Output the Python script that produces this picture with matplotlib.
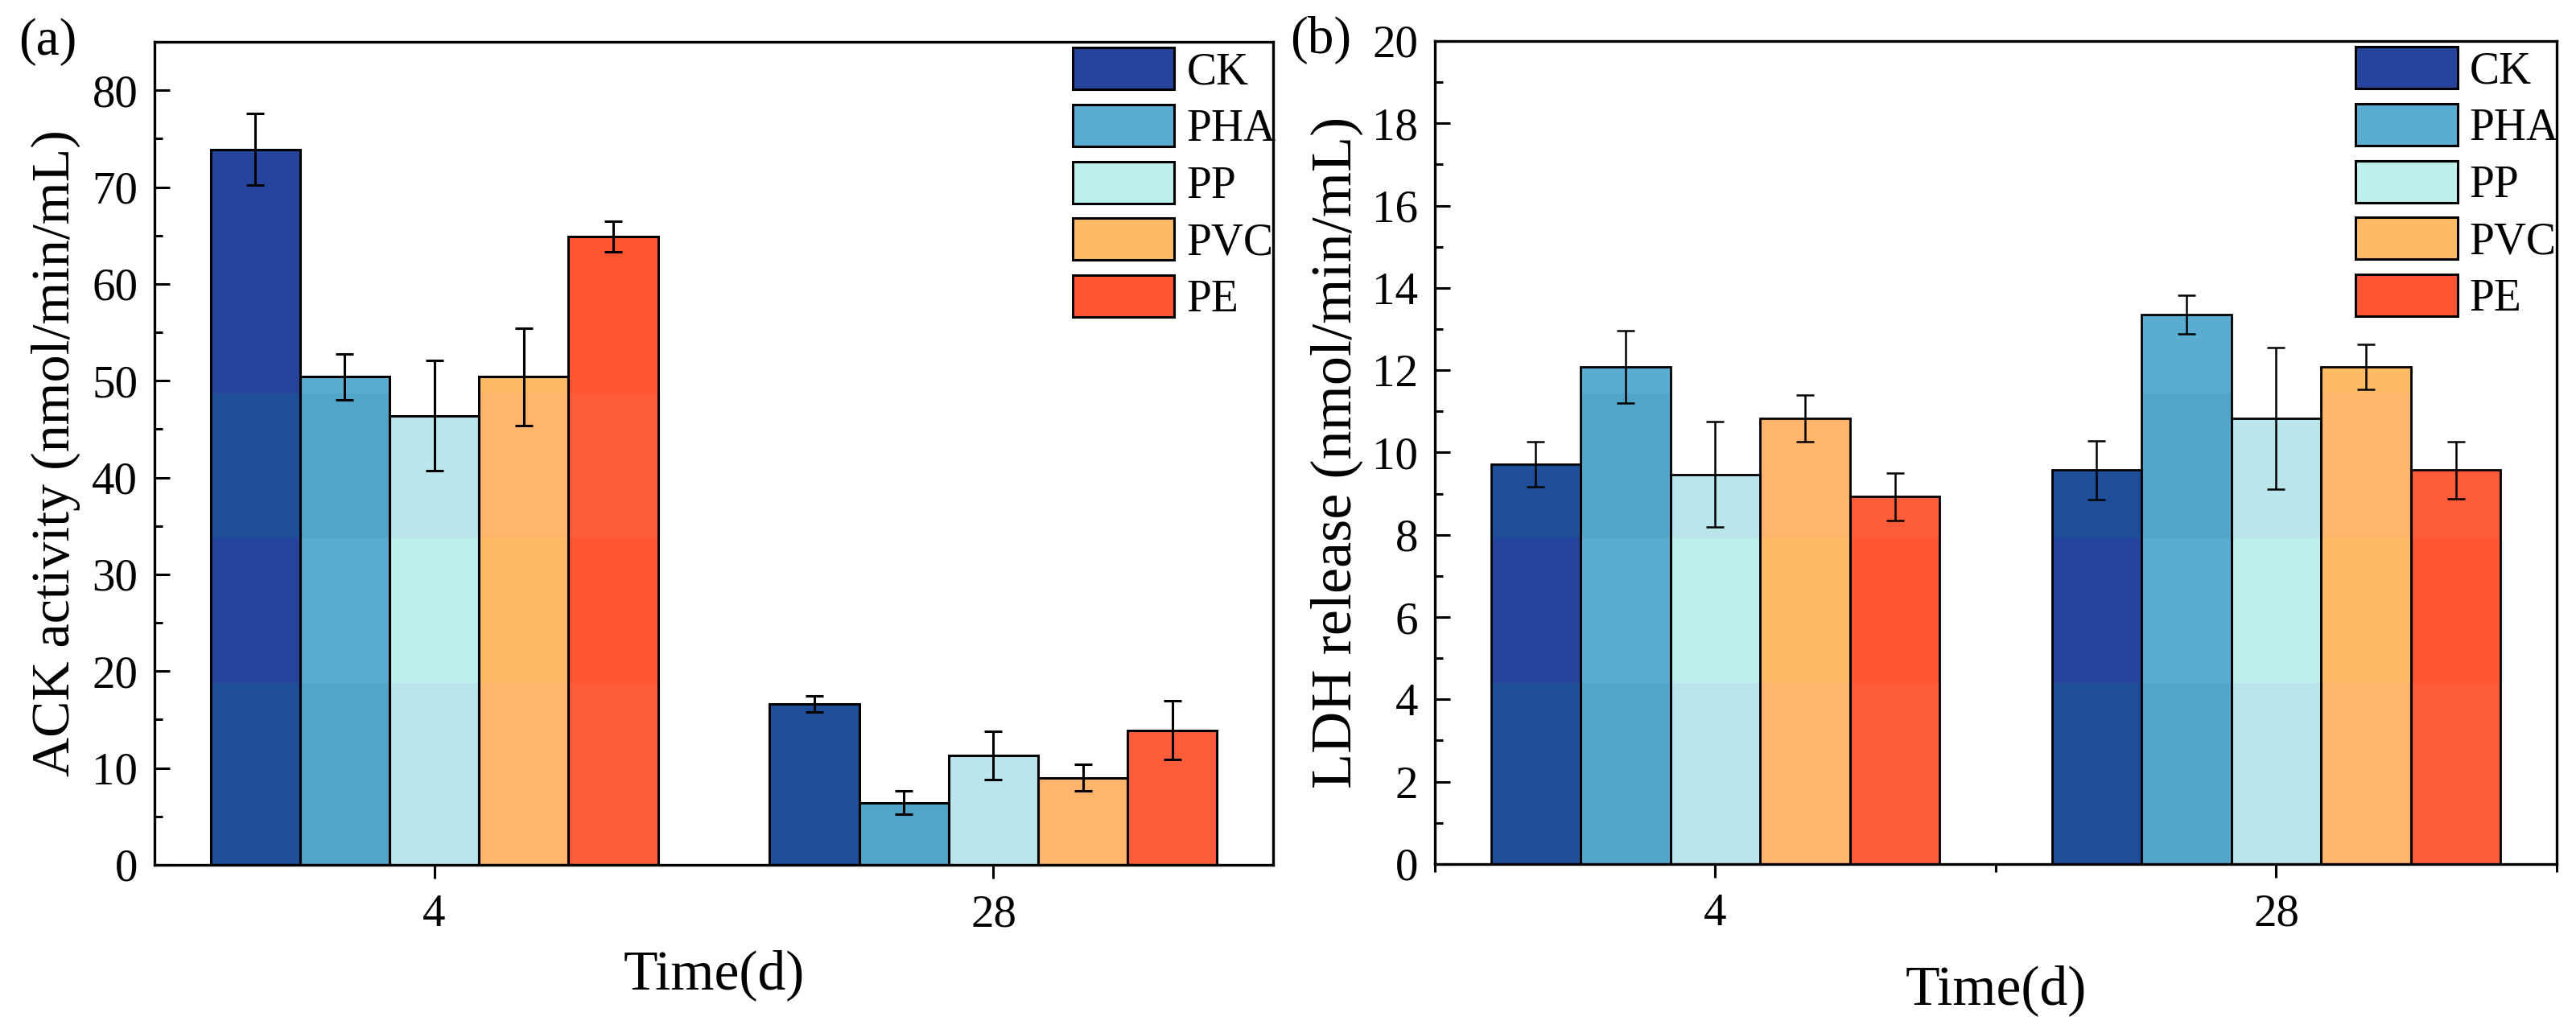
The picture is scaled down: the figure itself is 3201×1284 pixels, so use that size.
import numpy as np
import matplotlib.pyplot as plt
from matplotlib.patches import Patch, Rectangle
from matplotlib.transforms import blended_transform_factory
from matplotlib.ticker import MultipleLocator

plt.rcParams['font.family'] = ['Liberation Serif', 'DejaVu Serif']

# data
groups = ['CK', 'PHA', 'PP', 'PVC', 'PE']
days = ['4', '28']

ack_d4 = [73.9, 50.4, 46.4, 50.4, 64.9]
ack_d4_err = [3.7, 2.4, 5.7, 5.0, 1.6]
ack_d28 = [16.6, 6.4, 11.3, 9.0, 13.9]
ack_d28_err = [0.85, 1.2, 2.5, 1.4, 3.05]

ldh_d4 = [9.72, 12.08, 9.47, 10.83, 8.93]
ldh_d4_err = [0.55, 0.88, 1.28, 0.57, 0.58]
ldh_d28 = [9.57, 13.35, 10.83, 12.08, 9.57]
ldh_d28_err = [0.71, 0.47, 1.72, 0.55, 0.69]

colors = ['#26449C', '#5AACD0', '#BDEFEC', '#FFBB63', '#FF5530']
# slightly shifted shades seen in horizontal strips of the original export
strip_colors = ['#1E4F98', '#52A5C9', '#BBE5EC', '#FFB56C', '#FF5C3A']
strips = [(1 - 669 / 1284, 1 - 489 / 1284), (0.0, 1 - 849 / 1284)]

fig = plt.figure(figsize=(32.01, 12.84), dpi=100)
ax_a = fig.add_axes([0.0600, 0.1628, 0.4342, 0.7967])
ax_b = fig.add_axes([0.5570, 0.1636, 0.4355, 0.7967])

width = 0.16
x = np.arange(len(days))


def draw_panel(ax, d4, e4, d28, e28, edge_lw, err_lw):
    trans = blended_transform_factory(ax.transData, fig.transFigure)
    for i, g in enumerate(groups):
        pos = x + (i - 2) * width
        vals = [d4[i], d28[i]]
        errs = [e4[i], e28[i]]
        bars = ax.bar(pos, vals, width, color=colors[i], linewidth=0, zorder=2)
        for b in bars:
            for y0, y1 in strips:
                r = Rectangle((b.get_x(), y0), b.get_width(), y1 - y0,
                              transform=trans, facecolor=strip_colors[i],
                              edgecolor='none', zorder=2.1)
                ax.add_patch(r)
                r.set_clip_path(b)
        ax.bar(pos, vals, width, fill=False, edgecolor='black',
               linewidth=edge_lw, zorder=3)
        ax.errorbar(pos, vals, yerr=errs, fmt='none', ecolor='black',
                    elinewidth=err_lw, capsize=8, capthick=err_lw, zorder=4)

    ax.set_xlim(-0.5, 1.5)
    ax.set_xticks(x)
    ax.set_xticklabels(days)
    for s in ax.spines.values():
        s.set_linewidth(2.4)
        s.set_zorder(5)
    ax.tick_params(axis='y', which='major', direction='in', length=13.7,
                   width=2.2, labelsize=41, pad=15)
    ax.tick_params(axis='y', which='minor', direction='in', length=7,
                   width=2.2)
    ax.tick_params(axis='x', which='major', direction='out', length=12,
                   width=2.2, labelsize=41, pad=14)
    ax.tick_params(axis='x', which='minor', direction='out', length=7,
                   width=2.2)

    handles = [Patch(facecolor=c, edgecolor='black', linewidth=2.2)
               for c in colors]
    ax.legend(handles, groups, loc='upper left', bbox_to_anchor=(0.821, 0.993),
              frameon=False, fontsize=40, handlelength=2.27, handleheight=1.06,
              handletextpad=0.27, labelspacing=0.25, borderpad=0,
              borderaxespad=0)


draw_panel(ax_a, ack_d4, ack_d4_err, ack_d28, ack_d28_err, 2.2, 2.2)
ax_a.set_ylim(0, 85)
ax_a.yaxis.set_major_locator(MultipleLocator(10))
ax_a.yaxis.set_minor_locator(MultipleLocator(5))
ax_a.set_ylabel('ACK activity (nmol/min/mL)', fontsize=49, labelpad=10)
ax_a.set_xlabel('Time(d)', fontsize=50, labelpad=12)

draw_panel(ax_b, ldh_d4, ldh_d4_err, ldh_d28, ldh_d28_err, 2.0, 1.8)
ax_b.set_ylim(0, 20)
ax_b.yaxis.set_major_locator(MultipleLocator(2))
ax_b.yaxis.set_minor_locator(MultipleLocator(1))
ax_b.xaxis.set_minor_locator(MultipleLocator(0.5))
ax_b.set_ylabel('LDH release (nmol/min/mL)', fontsize=52, labelpad=8)
ax_b.set_xlabel('Time(d)', fontsize=50, labelpad=27)

fig.text(23 / 3201, 1 - 22 / 1284, '(a)', fontsize=47, ha='left', va='top')
fig.text(1603 / 3201, 1 - 20 / 1284, '(b)', fontsize=47, ha='left', va='top')

fig.savefig('out.png', dpi=100)
